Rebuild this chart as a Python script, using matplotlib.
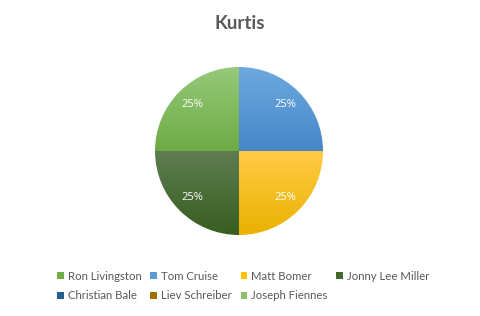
import numpy as np
import matplotlib
matplotlib.use("Agg")
import matplotlib.pyplot as plt
from matplotlib.colors import LinearSegmentedColormap
from matplotlib.patches import Patch

# ── data ────────────────────────────────────────────────────────────────────
names = ["Ron Livingston", "Tom Cruise", "Matt Bomer", "Jonny Lee Miller",
         "Christian Bale", "Liev Schreiber", "Joseph Fiennes"]
values = [1, 1, 1, 1, 0, 0, 0]
title = "Kurtis"

# solid colour (legend) plus gradient top / bottom for the slices
solid = ["#70AD47", "#5B9BD5", "#FFC000", "#43682B", "#255E91", "#9E7000", "#8CC168"]
grad_top = ["#97C97A", "#6DA9DF", "#FFCB45", "#5E7D53", "#3E76A8", "#B48A2A", "#A3D087"]
grad_bot = ["#6DAB45", "#4687C9", "#EBB100", "#385E1F", "#1E5283", "#8A6000", "#7AB455"]

TXT = "#595959"

fig = plt.figure(figsize=(4.8, 3.16), dpi=100)
fig.patch.set_facecolor("white")

# pie axes: centre (239,151) px, radius 84 px
r_px, cx, cy = 84, 239, 151
ax = fig.add_axes([(cx - r_px) / 480, (316 - cy - r_px) / 316, 2 * r_px / 480, 2 * r_px / 316])

wedges, _, autotexts = ax.pie(
    values, startangle=180, counterclock=False, radius=1,
    autopct=lambda p: f"{p:.0f}%" if p > 0 else "",
    pctdistance=0.78, wedgeprops=dict(linewidth=0),
    textprops=dict(color="white", fontsize=8, family="Open Sans"))

for i, w in enumerate(wedges):
    w.set_facecolor("none")
    if values[i] == 0:
        continue
    ext = w.get_path().get_extents()
    cmap = LinearSegmentedColormap.from_list(f"g{i}", [grad_bot[i], grad_top[i]])
    grad = np.linspace(0, 1, 256).reshape(-1, 1)
    im = ax.imshow(grad, cmap=cmap, origin="lower", aspect="auto",
                   extent=[ext.x0, ext.x1, ext.y0, ext.y1], zorder=0)
    im.set_clip_path(w)

for t in autotexts:
    t.set_zorder(5)

ax.set_xlim(-1, 1)
ax.set_ylim(-1, 1)
ax.axis("off")

fig.text(0.5, 0.927, title, ha="center", va="center", fontsize=13.5,
         fontweight="bold", color=TXT, family="Lato")

# legend reads row by row, matplotlib fills column by column
order = [0, 4, 1, 5, 2, 6, 3]
handles = [Patch(facecolor=solid[i], edgecolor="none") for i in order]
labels = [names[i] for i in order]
fig.legend(handles, labels, loc="center", bbox_to_anchor=(0.507, 0.095), ncol=4,
           frameon=False, labelcolor=TXT, prop=dict(family="Lato", size=8.2),
           handlelength=0.6, handleheight=0.6, handletextpad=0.35,
           columnspacing=0.75, labelspacing=0.75)

fig.savefig("out.png", dpi=100, facecolor="white")
